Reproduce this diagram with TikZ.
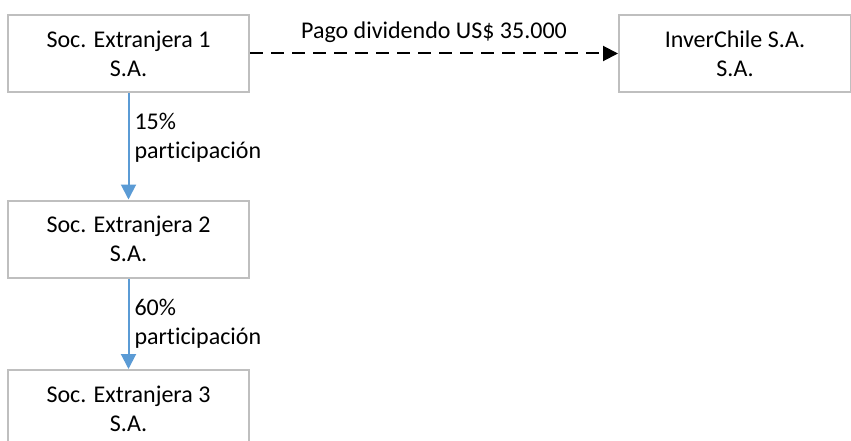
\documentclass[tikz,border=0pt]{standalone}
\usepackage{fontspec}
\setmainfont{Carlito}[Ligatures=NoCommon]
\usetikzlibrary{arrows.meta}
\begin{document}
\begin{tikzpicture}[x=1pt,y=-1pt,
  entity/.style={draw=black!25,line width=2pt,fill=white,minimum width=241pt,minimum height=77pt,
    inner sep=0pt,align=center,font=\fontsize{24}{29}\selectfont},
  owns/.style={draw={rgb,255:red,91;green,155;blue,213},line width=2pt,
    -{Triangle[length=15pt,width=15pt,fill={rgb,255:red,91;green,155;blue,213}]}},
  pays/.style={draw=black,line width=2pt,dash pattern=on 13pt off 8pt,
    -{Triangle[length=15pt,width=15pt]}},
  lbl/.style={font=\fontsize{24}{29}\selectfont,align=left,inner sep=0pt}]
\useasboundingbox (0,0) rectangle (851,441);
\clip (0,0) rectangle (851,441);
\node[entity] (s1) at (128.5,53.5) {Soc. Extranjera 1\\S.A.};
\node[entity,minimum width=232pt] (ic) at (735,53.5) {InverChile S.A.\\S.A.};
\node[entity] (s2) at (128.5,239) {Soc. Extranjera 2\\S.A.};
\node[entity] (s3) at (128.5,408.5) {Soc. Extranjera 3\\S.A.};
\draw[pays] (s1.east) -- (ic.west) node[midway,above=10pt,lbl] {Pago dividendo US\$ 35.000};
\draw[owns] (s1.south) -- (s2.north) node[pos=0.42,right=5pt,lbl] {15\%\\participación};
\draw[owns] (s2.south) -- (s3.north) node[pos=0.5,right=5pt,lbl] {60\%\\participación};
\end{tikzpicture}
\end{document}
